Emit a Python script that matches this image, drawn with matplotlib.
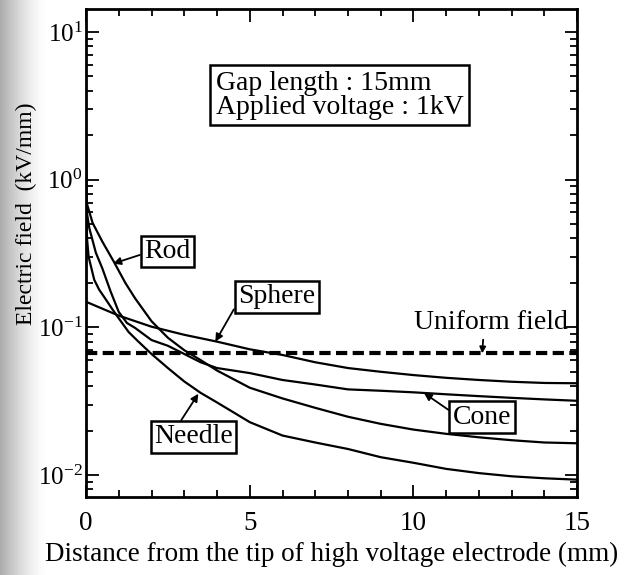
import numpy as np
import matplotlib
matplotlib.use("Agg")
import matplotlib.pyplot as plt
from matplotlib.ticker import FixedLocator, LogLocator, NullFormatter, MultipleLocator

plt.rcParams['font.family'] = 'Liberation Serif'
plt.rcParams['mathtext.fontset'] = 'custom'
plt.rcParams['mathtext.rm'] = 'Liberation Serif'
plt.rcParams['mathtext.it'] = 'Liberation Serif:italic'

# distance from tip (mm) and field (kV/mm)
rod_x = [0, 0.2, 0.5, 0.85, 1.2, 1.5, 2.0, 2.5, 3.0, 3.5, 4.0, 5.0, 6.0, 7.0, 8.0,
         9.0, 10.0, 11.0, 12.0, 13.0, 14.0, 15.0]
rod_y = [0.72, 0.51, 0.38, 0.278, 0.2, 0.157, 0.11, 0.085, 0.07, 0.06, 0.051, 0.039,
         0.033, 0.0285, 0.0248, 0.0222, 0.0203, 0.019, 0.018, 0.0172, 0.0166, 0.0164]

sphere_x = [0, 1, 2, 3, 4, 5, 6, 7, 8, 9, 10, 11, 12, 13, 14, 15]
sphere_y = [0.149, 0.12, 0.101, 0.089, 0.080, 0.071, 0.065, 0.058, 0.053, 0.050,
            0.0475, 0.0455, 0.044, 0.0428, 0.042, 0.0418]

cone_x = [0, 0.1, 0.3, 0.5, 0.75, 1.0, 1.25, 1.5, 2.0, 2.5, 3.0, 3.5, 4.0, 5.0, 6.0,
          7.0, 8.0, 9.0, 10.0, 11.0, 12.0, 13.0, 14.0, 15.0]
cone_y = [0.65, 0.47, 0.32, 0.25, 0.175, 0.127, 0.107, 0.099, 0.082, 0.075, 0.066,
          0.058, 0.053, 0.049, 0.044, 0.041, 0.038, 0.0372, 0.0363, 0.0352, 0.0342,
          0.0333, 0.0325, 0.0318]

needle_x = [0, 0.03, 0.08, 0.25, 0.4, 0.6, 0.8, 1.0, 1.3, 1.6, 2.0, 2.5, 3.0, 3.5, 4.0,
            5.0, 6.0, 7.0, 8.0, 9.0, 10.0, 11.0, 12.0, 13.0, 14.0, 15.0]
needle_y = [2.0, 0.4, 0.3, 0.21, 0.18, 0.155, 0.133, 0.115, 0.093, 0.08, 0.066, 0.053,
            0.043, 0.036, 0.031, 0.0228, 0.0185, 0.0166, 0.015, 0.0132, 0.0121, 0.011,
            0.0103, 0.0098, 0.0095, 0.0093]

gap_mm = 15.0
voltage_kv = 1.0
uniform_y = voltage_kv / gap_mm

fig = plt.figure(figsize=(6.27, 5.75), dpi=100)

# grey shading along the left edge of the scanned page
bg = fig.add_axes([0, 0, 1, 1], zorder=-10)
shade = np.clip(1 - np.linspace(0, 1, 627) / 0.075, 0, 1) ** 1.5
bg.imshow(1 - 0.33 * shade[None, :], cmap='gray', vmin=0, vmax=1, aspect='auto',
          extent=[0, 1, 0, 1])
bg.axis('off')

ax = fig.add_axes([0.1372, 0.1357, 0.7834, 0.8486])

for xs, ys in [(rod_x, rod_y), (sphere_x, sphere_y), (cone_x, cone_y), (needle_x, needle_y)]:
    ax.plot(xs, ys, color='black', lw=1.6)
ax.plot([0, 15], [uniform_y, uniform_y], color='black', lw=3, ls=(0, (2.7, 1.3)))

ax.set_yscale('log')
ax.set_xlim(0, 15)
ax.set_ylim(0.0071, 14.3)

ax.xaxis.set_major_locator(FixedLocator([0, 5, 10, 15]))
ax.xaxis.set_minor_locator(MultipleLocator(1))
ax.yaxis.set_major_locator(FixedLocator([0.01, 0.1, 1, 10]))
ax.yaxis.set_minor_locator(LogLocator(base=10, subs=np.arange(2, 10)))
ax.yaxis.set_minor_formatter(NullFormatter())
ax.set_yticklabels([r'$\mathregular{10^{-2}}$', r'$\mathregular{10^{-1}}$',
                    r'$\mathregular{10^{0}}$', r'$\mathregular{10^{1}}$'])
ax.tick_params(which='both', direction='in', top=True, right=True, width=1.3)
ax.tick_params(which='major', length=9)
ax.tick_params(which='minor', length=5)
ax.tick_params(axis='x', which='major', labelsize=19.5, pad=10)
ax.tick_params(axis='y', which='major', labelsize=18, pad=2.5)
for s in ax.spines.values():
    s.set_linewidth(2)

ax.set_xlabel('Distance from the tip of high voltage electrode (mm)', fontsize=19.5, labelpad=4)
ax.set_ylabel('Electric field  (kV/mm)', fontsize=17)
ax.yaxis.set_label_coords(-0.1, 0.58)

box = dict(boxstyle='square,pad=0.12', fc='white', ec='black', lw=1.8)


def arrow(rx, ry):
    return dict(arrowstyle='-|>', color='black', lw=1.3, mutation_scale=11,
                shrinkA=0, shrinkB=0, relpos=(rx, ry))


ax.text(7.74, 3.73, 'Gap length : 15mm\nApplied voltage : 1kV', fontsize=20,
        ha='center', va='center', multialignment='left', linespacing=0.95,
        bbox=dict(boxstyle='square,pad=0.2', fc='white', ec='black', lw=1.8))

ax.annotate('Rod', xy=(0.83, 0.27), xytext=(2.48, 0.326), fontsize=20, ha='center',
            va='center', bbox=box, arrowprops=arrow(0, 0.42))
ax.annotate('Sphere', xy=(3.95, 0.08), xytext=(5.82, 0.161), fontsize=20, ha='center',
            va='center', bbox=box, arrowprops=arrow(0.02, 0.4))
ax.annotate('Cone', xy=(10.32, 0.0359), xytext=(12.09, 0.0247), fontsize=20, ha='center',
            va='center', bbox=box, arrowprops=arrow(0, 0.67))
ax.annotate('Needle', xy=(3.43, 0.0355), xytext=(3.28, 0.0181), fontsize=20, ha='center',
            va='center', bbox=box, arrowprops=arrow(0.31, 1.0))
ax.annotate('Uniform field', xy=(12.1, uniform_y), xytext=(12.37, 0.107), fontsize=20,
            ha='center', va='center',
            arrowprops=dict(arrowstyle='-|>', color='black', lw=1.3, mutation_scale=9,
                            shrinkA=1, shrinkB=0, relpos=(0.45, 0)))

fig.savefig('out.png', dpi=100)
